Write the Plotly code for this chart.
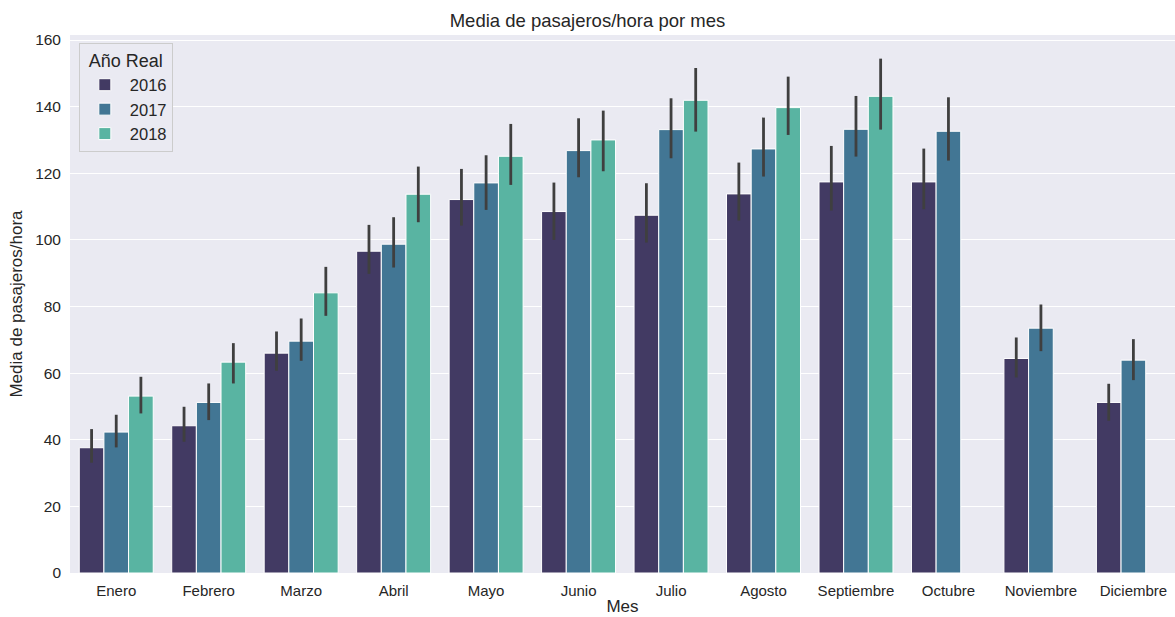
import plotly.graph_objects as go

meses = ["Enero", "Febrero", "Marzo", "Abril", "Mayo", "Junio", "Julio",
         "Agosto", "Septiembre", "Octubre", "Noviembre", "Diciembre"]

media_2016 = [37.6, 44.2, 66.0, 96.6, 112.1, 108.5, 107.4, 113.8, 117.4, 117.4, 64.4, 51.2]
ci_hi_2016 = [43.2, 49.9, 72.5, 104.5, 121.3, 117.2, 117.0, 123.2, 128.2, 127.4, 70.7, 56.8]
ci_lo_2016 = [33.1, 39.4, 60.7, 89.8, 104.3, 100.0, 99.2, 105.8, 108.8, 109.2, 58.7, 45.7]

media_2017 = [42.3, 51.2, 69.6, 98.7, 117.1, 126.8, 133.1, 127.3, 133.2, 132.6, 73.5, 63.9]
ci_hi_2017 = [47.5, 56.9, 76.4, 106.8, 125.4, 136.5, 142.5, 136.7, 143.2, 142.8, 80.6, 70.2]
ci_lo_2017 = [37.7, 45.9, 63.7, 91.7, 109.0, 118.8, 124.5, 119.0, 125.0, 123.8, 66.6, 57.9]

media_2018 = [53.1, 63.3, 84.1, 113.7, 125.1, 130.0, 141.9, 139.7, 143.1, None, None, None]
ci_hi_2018 = [58.9, 69.0, 91.9, 122.0, 134.8, 138.8, 151.6, 149.0, 154.4, None, None, None]
ci_lo_2018 = [47.9, 56.9, 77.2, 105.3, 116.5, 120.6, 132.5, 131.5, 133.1, None, None, None]

series = [
    ("2016", media_2016, ci_hi_2016, ci_lo_2016, "#423a63"),
    ("2017", media_2017, ci_hi_2017, ci_lo_2017, "#427694"),
    ("2018", media_2018, ci_hi_2018, ci_lo_2018, "#59b4a2"),
]

FONT = "Liberation Sans, Arial, sans-serif"
TXT = "#262626"

fig = go.Figure()
for name, m, hi, lo, col in series:
    up = [None if (a is None or b is None) else b - a for a, b in zip(m, hi)]
    dn = [None if (a is None or b is None) else a - b for a, b in zip(m, lo)]
    fig.add_trace(go.Bar(
        x=list(range(len(meses))), y=m, name=name,
        marker=dict(color=col, line=dict(color="white", width=1)),
        error_y=dict(type="data", symmetric=False, array=up, arrayminus=dn,
                     color="#3f3f3f", thickness=2.8, width=0),
    ))

fig.update_layout(
    width=1175, height=617,
    barmode="group", bargap=0.2, bargroupgap=0,
    paper_bgcolor="white", plot_bgcolor="#eaeaf2",
    margin=dict(l=70, r=0, t=35, b=44),
    font=dict(family=FONT, color=TXT, size=15),
    title=dict(text="Media de pasajeros/hora por mes", x=0.5, xanchor="center",
               y=0.967, yanchor="middle", font=dict(size=18.5, color=TXT)),
    showlegend=True,
    legend=dict(
        title=dict(text="Año Real", font=dict(size=18, color=TXT), side="top center"),
        x=0.008, y=0.985, xanchor="left", yanchor="top",
        bgcolor="#eaeaf2", bordercolor="#cccccc", borderwidth=1,
        font=dict(size=16.5, color=TXT), traceorder="normal",
        itemwidth=40,
    ),
)
fig.update_xaxes(
    tickmode="array", tickvals=list(range(len(meses))), ticktext=meses,
    range=[-0.5, 11.45], showgrid=False, zeroline=False, showline=False,
    ticks="", ticklabelstandoff=7, tickfont=dict(size=15, color=TXT),
    title=dict(text="Mes", font=dict(size=17, color=TXT), standoff=2),
)
fig.update_yaxes(
    range=[0, 161.5], tickmode="array", tickvals=[0, 20, 40, 60, 80, 100, 120, 140, 160],
    showgrid=True, gridcolor="white", gridwidth=1.2, zeroline=False, showline=False,
    ticks="", ticklabelstandoff=8, tickfont=dict(size=15.5, color=TXT),
    title=dict(text="Media de pasajeros/hora", font=dict(size=17, color=TXT), standoff=8),
)

fig.write_html("out.html")
